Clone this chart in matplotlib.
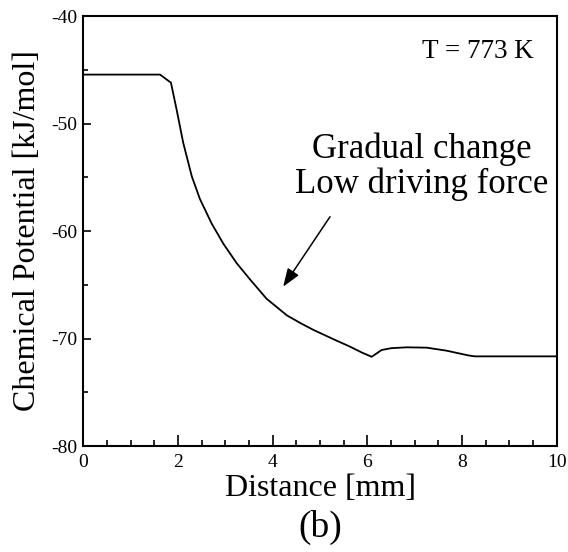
import numpy as np
import matplotlib
matplotlib.use('Agg')
import matplotlib.pyplot as plt
from matplotlib.ticker import MultipleLocator

plt.rcParams['font.family'] = ['Liberation Serif', 'DejaVu Serif']
plt.rcParams['axes.unicode_minus'] = False

# chemical potential profile
distance = [0.0, 1.62, 1.85, 1.97, 2.11, 2.29, 2.46, 2.71, 2.96, 3.24, 3.52,
            3.87, 4.30, 4.60, 4.86, 5.30, 5.63, 5.88, 6.09, 6.30, 6.50, 6.83,
            7.25, 7.67, 8.13, 8.27, 10.0]
potential = [-45.45, -45.45, -46.2, -48.7, -51.8, -54.9, -57.0, -59.3, -61.2,
             -63.0, -64.5, -66.3, -67.85, -68.6, -69.2, -70.1, -70.75, -71.3,
             -71.7, -71.07, -70.9, -70.82, -70.85, -71.13, -71.57, -71.66, -71.66]

fig = plt.figure(figsize=(5.68, 5.52), dpi=100)
ax = fig.add_axes([0.1467, 0.192, 0.8336, 0.779])

ax.plot(distance, potential, color='black', linewidth=1.3)

ax.set_xlim(0, 10)
ax.set_ylim(-80, -40)
ax.xaxis.set_major_locator(MultipleLocator(2))
ax.xaxis.set_minor_locator(MultipleLocator(0.5))
ax.yaxis.set_major_locator(MultipleLocator(10))
ax.yaxis.set_minor_locator(MultipleLocator(5))
ax.tick_params(axis='both', which='both', direction='in', top=False, right=False,
               labelsize=14, width=1.2)
ax.tick_params(axis='x', which='major', length=8, pad=6)
ax.tick_params(axis='x', which='minor', length=4)
ax.tick_params(axis='y', which='major', length=6, pad=4.3)
ax.tick_params(axis='y', which='minor', length=3.5)
for s in ax.spines.values():
    s.set_linewidth(1.5)

ax.set_xlabel('Distance [mm]', fontsize=23, labelpad=2)
ax.set_ylabel('Chemical Potential [kJ/mol]', fontsize=23, labelpad=7)

ax.text(8.33, -43.9, 'T = 773 K', fontsize=19.5, ha='center', va='baseline')
ax.text(7.15, -53.2, 'Gradual change', fontsize=25, ha='center', va='baseline')
ax.text(7.15, -56.5, 'Low driving force', fontsize=25, ha='center', va='baseline')
ax.annotate('', xy=(4.22, -65.18), xytext=(5.21, -58.67),
            arrowprops=dict(arrowstyle='-|>,head_length=1.1,head_width=0.4',
                            color='black', linewidth=1.1, shrinkA=0, shrinkB=0))

fig.text(0.1467 + 0.8336 / 2, 0.0277, '(b)', fontsize=27, ha='center', va='baseline')

fig.savefig('out.png', dpi=100)
